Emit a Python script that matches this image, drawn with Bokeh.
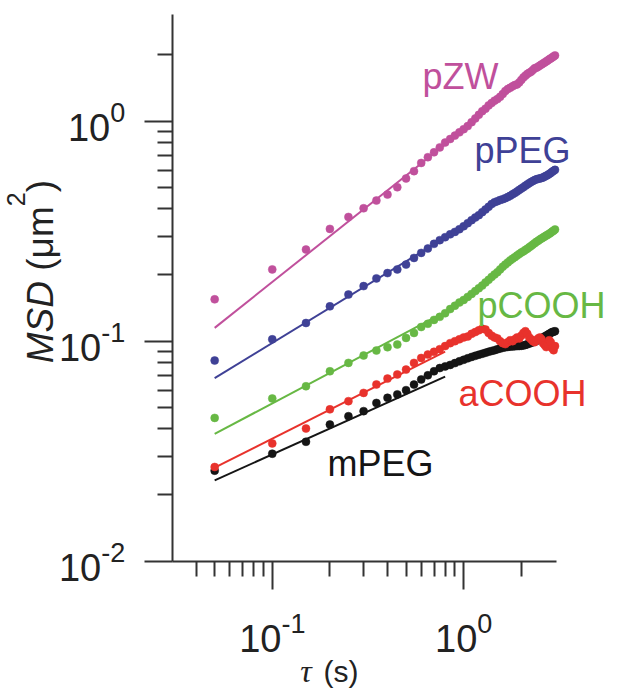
import math
from bokeh.plotting import figure
from bokeh.models import Range1d, FixedTicker, Label, CustomJSTickFormatter
from bokeh.embed import file_html
from bokeh.resources import INLINE

# ---------------- data ----------------
tau = [0.05, 0.10, 0.15, 0.20, 0.25, 0.30, 0.35, 0.40, 0.45, 0.50,
       0.55, 0.60, 0.65, 0.70, 0.75, 0.80, 0.85, 0.90, 0.95, 1.00,
       1.05, 1.10, 1.15, 1.20, 1.25, 1.30, 1.35, 1.40, 1.45, 1.50,
       1.55, 1.60, 1.65, 1.70, 1.75, 1.80, 1.85, 1.90, 1.95, 2.00,
       2.05, 2.10, 2.15, 2.20, 2.25, 2.30, 2.35, 2.40, 2.45, 2.50,
       2.55, 2.60, 2.65, 2.70, 2.75, 2.80, 2.85, 2.90, 2.95, 3.00]

msd_pZW = [0.155, 0.212, 0.261, 0.324, 0.367, 0.402, 0.436, 0.464, 0.501, 0.549,
           0.593, 0.646, 0.686, 0.722, 0.76, 0.80, 0.83, 0.86, 0.89, 0.92,
           0.95, 0.99, 1.03, 1.07, 1.11, 1.14, 1.18, 1.21, 1.24, 1.26,
           1.29, 1.33, 1.37, 1.40, 1.42, 1.44, 1.46, 1.47, 1.50, 1.54,
           1.58, 1.61, 1.64, 1.66, 1.68, 1.71, 1.74, 1.75, 1.77, 1.79,
           1.81, 1.83, 1.85, 1.87, 1.89, 1.91, 1.93, 1.95, 1.97, 1.99]

msd_pPEG = [0.0817, 0.102, 0.121, 0.144, 0.163, 0.178, 0.193, 0.204, 0.212, 0.223,
            0.239, 0.252, 0.264, 0.277, 0.288, 0.297, 0.306, 0.314, 0.323, 0.333,
            0.344, 0.355, 0.365, 0.374, 0.386, 0.397, 0.408, 0.420, 0.428, 0.433,
            0.438, 0.442, 0.447, 0.452, 0.458, 0.465, 0.472, 0.479, 0.487, 0.494,
            0.501, 0.509, 0.516, 0.523, 0.529, 0.535, 0.540, 0.544, 0.547, 0.549,
            0.552, 0.555, 0.560, 0.565, 0.570, 0.576, 0.582, 0.589, 0.595, 0.601]

msd_pCOOH = [0.0448, 0.0549, 0.0624, 0.0730, 0.0797, 0.0861, 0.0907, 0.0939, 0.0966, 0.1035,
             0.109, 0.116, 0.120, 0.125, 0.129, 0.134, 0.140, 0.145, 0.150, 0.154,
             0.159, 0.164, 0.169, 0.174, 0.179, 0.185, 0.190, 0.196, 0.201, 0.206,
             0.212, 0.218, 0.223, 0.228, 0.233, 0.237, 0.241, 0.245, 0.249, 0.253,
             0.256, 0.260, 0.263, 0.267, 0.271, 0.275, 0.279, 0.283, 0.286, 0.290,
             0.293, 0.296, 0.299, 0.302, 0.305, 0.308, 0.311, 0.315, 0.318, 0.322]

msd_aCOOH = [0.0268, 0.0343, 0.0401, 0.0490, 0.0534, 0.0582, 0.0636, 0.0676, 0.0706, 0.0743,
             0.0797, 0.0839, 0.0870, 0.0895, 0.092, 0.095, 0.098, 0.100, 0.102, 0.104,
             0.105, 0.108, 0.110, 0.112, 0.114, 0.113, 0.109, 0.106, 0.104, 0.103,
             0.100, 0.098, 0.097, 0.099, 0.101, 0.100, 0.102, 0.104, 0.103, 0.106,
             0.109, 0.111, 0.108, 0.104, 0.102, 0.100, 0.099, 0.101, 0.103, 0.104,
             0.102, 0.098, 0.096, 0.094, 0.097, 0.101, 0.099, 0.093, 0.091, 0.095]

msd_mPEG = [0.0258, 0.0308, 0.0349, 0.0418, 0.0456, 0.0481, 0.0524, 0.0553, 0.0573, 0.0599,
            0.0635, 0.0670, 0.0700, 0.0730, 0.0755, 0.0768, 0.0780, 0.0795, 0.0810, 0.0823,
            0.0836, 0.0848, 0.0858, 0.0868, 0.0877, 0.0886, 0.0895, 0.0903, 0.0910, 0.0918,
            0.0926, 0.0933, 0.0938, 0.0942, 0.0945, 0.0947, 0.0949, 0.0950, 0.0951, 0.0953,
            0.0957, 0.0962, 0.0968, 0.0975, 0.0983, 0.0990, 0.0998, 0.1005, 0.1012, 0.1020,
            0.1030, 0.1040, 0.1050, 0.1060, 0.1070, 0.1080, 0.1090, 0.1100, 0.1105, 0.1110]

# power-law fit lines (end points)
fit_tau = [0.05, 0.8]
fit_pZW = [0.115, 0.784]
fit_pPEG = [0.068, 0.296]
fit_pCOOH = [0.0379, 0.136]
fit_aCOOH = [0.0266, 0.0897]
fit_mPEG = [0.0233, 0.0690]

series_names = ["pZW", "pPEG", "pCOOH", "mPEG", "aCOOH"]
series_colors = ["#c0509c", "#3f4196", "#67b844", "#151515", "#e8322c"]
series_values = [msd_pZW, msd_pPEG, msd_pCOOH, msd_mPEG, msd_aCOOH]
series_fits = [fit_pZW, fit_pPEG, fit_pCOOH, fit_mPEG, fit_aCOOH]
# label anchors (data coordinates, left/baseline)
label_x = [0.609, 1.139, 1.18, 0.1945, 0.939]
label_y = [1.40, 0.646, 0.1276, 0.0243, 0.0506]

x_major = [0.1, 1.0]
x_minor = [0.04, 0.05, 0.06, 0.07, 0.08, 0.09, 0.2, 0.3, 0.4, 0.5, 0.6, 0.7, 0.8, 0.9, 2.0]
x_major_exp = ["-1", "0"]
y_major = [0.01, 0.1, 1.0]
y_minor = [0.02, 0.03, 0.04, 0.05, 0.06, 0.07, 0.08, 0.09,
           0.2, 0.3, 0.4, 0.5, 0.6, 0.7, 0.8, 0.9, 2.0]
y_major_exp = ["-2", "-1", "0"]

# axis extents (data)
X0, X1 = 0.03, 3.07
Y0, Y1 = 0.01, 3.06

# ---------------- layout ----------------
WIDTH, HEIGHT = 619, 696
AXIS_X_PX = 171.7      # where the y axis sits (from the left)
AXIS_Y_PX = 560.7      # where the x axis sits (from the top)
DEC_X, DEC_Y = 191.4, 220.0   # pixels per decade
xr = Range1d(10 ** (math.log10(X0) - AXIS_X_PX / DEC_X),
             10 ** (math.log10(X0) + (WIDTH - AXIS_X_PX) / DEC_X))
yr = Range1d(10 ** (math.log10(Y0) - (HEIGHT - AXIS_Y_PX) / DEC_Y),
             10 ** (math.log10(Y0) + AXIS_Y_PX / DEC_Y))

FONT = "Liberation Sans"
AX = "#333333"
TXT = "#222222"
BL = 0.35   # baseline correction (em) for label anchoring

W = {'M': 0.833, 'S': 0.667, 'D': 0.722, ' ': 0.278, '(': 0.333, ')': 0.333,
     'μ': 0.576, 'm': 0.833, '2': 0.556, '0': 0.556, '1': 0.556, '-': 0.333,
     's': 0.5, 'τ': 0.5}


def tw(s, size):
    return sum(W.get(c, 0.556) for c in s) * size


p = figure(width=WIDTH, height=HEIGHT, x_axis_type="log", y_axis_type="log",
           x_range=xr, y_range=yr, output_backend="svg", toolbar_location=None,
           min_border=0)
p.outline_line_color = None
p.grid.visible = False
p.background_fill_color = "white"
p.border_fill_color = "white"

p.xaxis[0].fixed_location = Y0
p.xaxis[0].bounds = (X0, X1)
p.yaxis[0].fixed_location = X0
p.yaxis[0].bounds = (Y0, Y1)

for ax, maj, mnr in ((p.xaxis[0], x_major, x_minor), (p.yaxis[0], y_major, y_minor)):
    ax.ticker = FixedTicker(ticks=maj, minor_ticks=mnr)
    ax.formatter = CustomJSTickFormatter(code="return ''")
    ax.axis_line_color = AX
    ax.axis_line_width = 2
    ax.major_tick_line_color = AX
    ax.major_tick_line_width = 2
    ax.minor_tick_line_color = AX
    ax.minor_tick_line_width = 2
    ax.major_tick_in = 0
    ax.major_tick_out = 28
    ax.minor_tick_in = 0
    ax.minor_tick_out = 15
    ax.major_label_text_font_size = "1px"

for name, col, vals, fit in zip(series_names, series_colors, series_values, series_fits):
    p.line(fit_tau, fit, line_color=col, line_width=2)
    p.scatter(tau, vals, size=8, fill_color=col, line_color=col, line_width=0.5)


def lab(size, x_offset=0, y_offset=0, rotated=False, **kw):
    kw.setdefault("text_font", FONT)
    kw.setdefault("text_color", TXT)
    kw.setdefault("text_align", "left")
    kw.setdefault("text_baseline", "alphabetic")
    if rotated:
        x_offset -= BL * size
        kw.update(angle=90, angle_units="deg")
    else:
        y_offset += BL * size
    p.add_layout(Label(text_font_size=f"{size}px", x_offset=x_offset,
                       y_offset=y_offset, **kw))


for name, col, lx, ly in zip(series_names, series_colors, label_x, label_y):
    lab(36, x=lx, y=ly, text=name, text_color=col)

# tick labels 10^n
BASE, SUP = 38, 27
for t, e in zip(y_major, y_major_exp):
    sw = tw(e, SUP)
    lab(SUP, x=X0, y=t, text=e, text_align="right", x_offset=-47, y_offset=-1)
    lab(BASE, x=X0, y=t, text="10", text_align="right", x_offset=-47 - sw, y_offset=-20)
for t, e in zip(x_major, x_major_exp):
    bw = tw("10", BASE)
    total = bw + tw(e, SUP)
    lab(BASE, x=t, y=Y0, text="10", x_offset=-total / 2, y_offset=-91)
    lab(SUP, x=t, y=Y0, text=e, x_offset=-total / 2 + bw, y_offset=-72)

# y axis title: MSD (μm²)
YS = 37
pos = 198
pieces = [("MSD", "italic", YS, -119, " "), ("(μm", "normal", YS, -119, ""),
          ("2", "normal", 25, -147, ""), (")", "normal", YS, -119, "")]
for txt, style, size, xo, gap in pieces:
    lab(size, rotated=True, x=X0, y=Y0, text=txt, text_font_style=style,
        x_offset=xo, y_offset=pos)
    pos += tw(txt + gap, size)

# x axis title: τ (s)
XS = 30
lab(XS + 2, x=X0, y=Y0, text="τ", text_font="Liberation Serif",
    text_font_style="italic", x_offset=128, y_offset=-121)
lab(XS, x=X0, y=Y0, text="(s)", x_offset=128 + tw("τ ", XS), y_offset=-121)

open("out.html", "w").write(file_html(p, INLINE))
